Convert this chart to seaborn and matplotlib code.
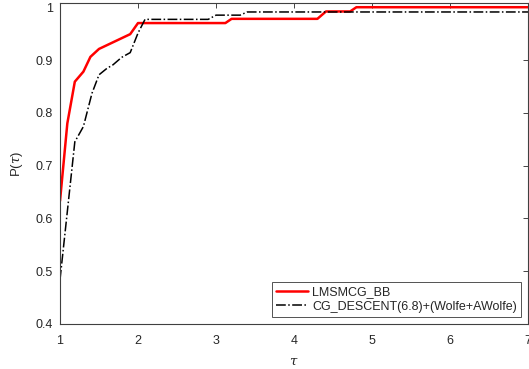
import numpy as np
import pandas as pd
import matplotlib
matplotlib.use('Agg')
import matplotlib.pyplot as plt
import seaborn as sns

# performance profile values
tau_bb = [1.0, 1.094, 1.19, 1.30, 1.39, 1.50, 1.90, 2.0, 3.12, 3.20, 4.30, 4.41, 4.72, 4.80, 7.0]
p_bb = [0.633, 0.780, 0.859, 0.878, 0.906, 0.921, 0.949, 0.970, 0.970, 0.978, 0.978, 0.992, 0.992, 1.0, 1.0]

tau_cg = [1.0, 1.19, 1.30, 1.41, 1.50, 1.60, 1.68, 1.79, 1.90, 2.0, 2.09, 2.90, 3.0, 3.31, 3.40, 7.0]
p_cg = [0.484, 0.745, 0.774, 0.837, 0.872, 0.884, 0.891, 0.905, 0.914, 0.951, 0.977, 0.977, 0.985, 0.985, 0.991, 0.991]

names = ['LMSMCG_BB', 'CG_DESCENT(6.8)+(Wolfe+AWolfe)']
x_ticks = [1, 2, 3, 4, 5, 6, 7]
y_ticks = [0.4, 0.5, 0.6, 0.7, 0.8, 0.9, 1.0]

sns.set_style('white')
plt.rcParams['font.family'] = ['Liberation Sans', 'DejaVu Sans']
plt.rcParams['mathtext.fontset'] = 'dejavuserif'

fig = plt.figure(figsize=(5.29, 3.69), dpi=100)
ax = fig.add_axes([60 / 529, 45 / 369, 468 / 529, 321 / 369])

sns.lineplot(x=tau_bb, y=p_bb, ax=ax, color='#ff0000', linewidth=1.8,
             estimator=None, sort=False, label=names[0])
sns.lineplot(x=tau_cg, y=p_cg, ax=ax, color='black', linewidth=1.1,
             linestyle='-.', estimator=None, sort=False, label=names[1])

ax.set_xlim(1, 7)
ax.set_ylim(0.4, 1.008)
ax.set_xticks(x_ticks)
ax.set_yticks(y_ticks)
ax.set_yticklabels(['%g' % v for v in y_ticks])
ax.tick_params(direction='in', top=True, right=True, length=3.5, width=0.6,
               colors='#262626', labelsize=9)
ax.tick_params(axis='x', pad=8)
ax.tick_params(axis='y', pad=5)
for s in ax.spines.values():
    s.set_color('#404040')
    s.set_linewidth(0.8)

ax.set_xlabel(r'$\tau$', fontsize=9.5, color='#262626', labelpad=6)
ax.set_ylabel(r'P($\tau$)', fontsize=9.5, color='#262626', labelpad=8)

leg = ax.legend(loc='lower right', fontsize=9, frameon=True, fancybox=False,
                edgecolor='#262626', borderpad=0.35, handlelength=2.5,
                handletextpad=0.35, labelspacing=0.2, borderaxespad=0.55)
leg.get_frame().set_linewidth(0.7)

fig.savefig('out.png', dpi=100)
